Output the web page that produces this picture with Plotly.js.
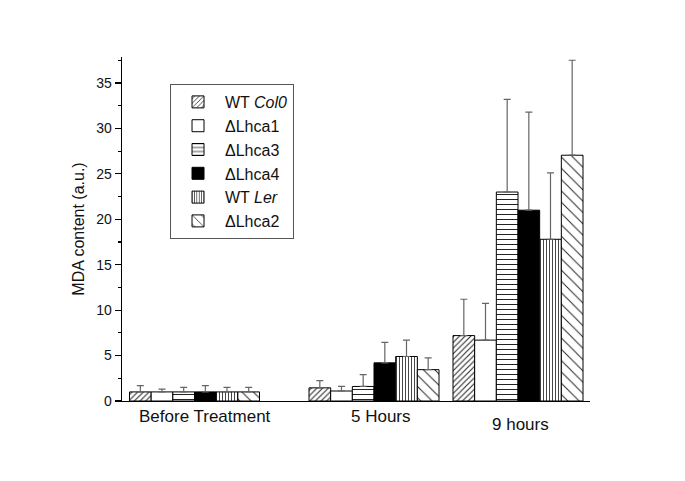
<!DOCTYPE html>
<html>
<head>
<meta charset="utf-8">
<script src="https://cdn.plot.ly/plotly-3.0.1.min.js"></script>
<style>html,body{margin:0;padding:0;background:#fff}#chart{width:685px;height:481px}</style>
</head>
<body>
<div id="chart"></div>
<script>
// Data
const categories = ["Before Treatment", "5 Hours", "9 hours"];
const seriesNames = ["WT <i>Col0</i>", "ΔLhca1", "ΔLhca3", "ΔLhca4", "WT <i>Ler</i>", "ΔLhca2"];
const wtCol0  = [1.0, 1.45, 7.2];
const lhca1   = [1.0, 1.1, 6.7];
const lhca3   = [1.0, 1.6, 23.0];
const lhca4   = [1.0, 4.2, 21.0];
const wtLer   = [1.0, 4.9, 17.8];
const lhca2   = [1.0, 3.45, 27.05];
const errCol0 = [0.7, 0.8, 4.0];
const errLhca1 = [0.3, 0.5, 4.05];
const errLhca3 = [0.5, 1.3, 10.2];
const errLhca4 = [0.7, 2.25, 10.8];
const errLer   = [0.5, 1.8, 7.3];
const errLhca2 = [0.5, 1.3, 10.45];
const yTicks = [0, 5, 10, 15, 20, 25, 30, 35];

// Layout helpers (category positions on a numeric axis)
const groupPos = [0.725, 2.52, 3.96];
const labelPos = [0.825, 2.59, 3.98];
const labelShift = [-15, -15, -23.5];

const values = [wtCol0, lhca1, lhca3, lhca4, wtLer, lhca2];
const errors = [errCol0, errLhca1, errLhca3, errLhca4, errLer, errLhca2];
const styles = [
  {bg: "#fff", pattern: {shape: "/", size: 4, solidity: 0.25, fgcolor: "#222", bgcolor: "#fff"}},
  {bg: "#fff", pattern: {shape: "", fgcolor: "#000", bgcolor: "#fff"}},
  {bg: "#fff", pattern: {shape: "-", size: 5, solidity: 0.2, fgcolor: "#222", bgcolor: "#fff"}},
  {bg: "#000", pattern: {shape: "", fgcolor: "#000", bgcolor: "#000"}},
  {bg: "#fff", pattern: {shape: "|", size: 3, solidity: 0.3, fgcolor: "#333", bgcolor: "#fff"}},
  {bg: "#fff", pattern: {shape: "\\", size: 8, solidity: 0.12, fgcolor: "#222", bgcolor: "#fff"}}
];

const traces = seriesNames.map((n, i) => ({
  type: "bar",
  name: n,
  x: groupPos,
  y: values[i],
  marker: {color: styles[i].bg, pattern: styles[i].pattern, line: {color: "#000", width: 1}},
  error_y: {type: "data", array: errors[i], arrayminus: errors[i].map(() => 0), symmetric: false,
            color: "#666", thickness: 1.2, width: 3.5},
  cliponaxis: false
}));

const annotations = categories.map((c, i) => ({
  text: c, x: labelPos[i], xref: "x", y: 0, yref: "paper",
  yanchor: "middle", xanchor: "center", yshift: labelShift[i], showarrow: false,
  font: {family: "Liberation Sans, Arial, sans-serif", size: 17, color: "#111"}
}));

const layout = {
  width: 685, height: 481,
  margin: {l: 122, r: 95, t: 57, b: 80},
  paper_bgcolor: "#fff", plot_bgcolor: "#fff",
  font: {family: "Liberation Sans, Arial, sans-serif", color: "#111"},
  barmode: "group", bargap: 0.0972, bargroupgap: 0,
  showlegend: true,
  legend: {x: 0.1026, y: 0.9215, xanchor: "left", yanchor: "top",
           bgcolor: "#fff", bordercolor: "#555", borderwidth: 1,
           itemwidth: 44,
           font: {size: 16, family: "Liberation Sans, Arial, sans-serif", color: "#111"},
           traceorder: "normal"},
  xaxis: {range: [0, 4.68], showline: true, linecolor: "#000", linewidth: 1.3,
          showgrid: false, zeroline: false, ticks: "", showticklabels: false, fixedrange: true},
  yaxis: {range: [0, 37.86], showline: true, linecolor: "#000", linewidth: 1.3,
          showgrid: false, zeroline: false, ticks: "outside", ticklen: 6, tickwidth: 1.2, tickcolor: "#000",
          tickvals: yTicks, ticktext: yTicks.map(String),
          minor: {dtick: 2.5, tick0: 0, ticks: "outside", ticklen: 3, tickwidth: 1.2, tickcolor: "#000"},
          tickfont: {size: 14, color: "#111"},
          title: {text: "MDA content (a.u.)", font: {size: 16, color: "#111"}, standoff: 7}},
  annotations: annotations
};

Plotly.newPlot("chart", traces, layout, {displayModeBar: false, staticPlot: true});
</script>
</body>
</html>
